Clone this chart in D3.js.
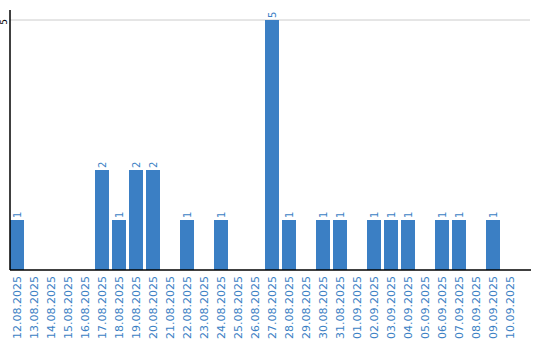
<!DOCTYPE html>
<html lang="en">
<head>
<meta charset="UTF-8">
<title>Daily counts</title>
<script src="https://d3js.org/d3.v7.min.js"></script>
<style>
  body { margin: 0; background: #fff; }
  text { font-family: "DejaVu Sans", sans-serif; }
</style>
</head>
<body>
<div id="chart"></div>
<script>
// categories and values
const dates = ["12.08.2025","13.08.2025","14.08.2025","15.08.2025","16.08.2025","17.08.2025",
  "18.08.2025","19.08.2025","20.08.2025","21.08.2025","22.08.2025","23.08.2025","24.08.2025",
  "25.08.2025","26.08.2025","27.08.2025","28.08.2025","29.08.2025","30.08.2025","31.08.2025",
  "01.09.2025","02.09.2025","03.09.2025","04.09.2025","05.09.2025","06.09.2025","07.09.2025",
  "08.09.2025","09.09.2025","10.09.2025"];
const counts = [1,0,0,0,0,2,1,2,2,0,1,0,1,0,0,5,1,0,1,1,0,1,1,1,0,1,1,0,1,0];
const yTicks = [5];

const W = 540, H = 340;
const plotLeft = 10, plotRight = 517, plotTop = 10, plotBottom = 270;
const blue = "#3b7fc4";

const svg = d3.select("#chart").append("svg")
  .attr("width", W).attr("height", H);

const x = d3.scaleBand().domain(dates).range([plotLeft, plotRight]).paddingInner(3 / 17).paddingOuter(0);
const y = d3.scaleLinear().domain([0, 5]).range([plotBottom, 20]);

// grid line
svg.append("g").selectAll("line").data(yTicks).join("line")
  .attr("x1", plotLeft).attr("x2", 530)
  .attr("y1", d => y(d)).attr("y2", d => y(d))
  .attr("stroke", "#cccccc");

// y tick labels (rotated)
svg.append("g").selectAll("text").data(yTicks).join("text")
  .attr("transform", d => `translate(7,${y(d) + 2}) rotate(-90)`)
  .attr("text-anchor", "middle")
  .attr("font-size", 9)
  .attr("fill", "#000")
  .text(d => d);

// bars
svg.append("g").selectAll("rect").data(dates).join("rect")
  .attr("x", d => x(d))
  .attr("width", x.bandwidth())
  .attr("y", (d, i) => y(counts[i]))
  .attr("height", (d, i) => y(0) - y(counts[i]))
  .attr("fill", blue);

// value labels
svg.append("g").selectAll("text").data(dates.filter((d, i) => counts[i] > 0)).join("text")
  .attr("transform", d => `translate(${x(d) + x.bandwidth() / 2 + 4},${y(counts[dates.indexOf(d)]) - 2}) rotate(-90)`)
  .attr("font-size", 10)
  .attr("fill", blue)
  .text(d => counts[dates.indexOf(d)]);

// axes lines
svg.append("line").attr("x1", plotLeft).attr("x2", plotLeft).attr("y1", plotTop).attr("y2", plotBottom)
  .attr("stroke", "#000").attr("stroke-width", 1.5);
svg.append("line").attr("x1", plotLeft).attr("x2", 531).attr("y1", plotBottom).attr("y2", plotBottom)
  .attr("stroke", "#000").attr("stroke-width", 1.5);

// x category labels
svg.append("g").selectAll("text").data(dates).join("text")
  .attr("transform", d => `translate(${x(d) + x.bandwidth() / 2 + 4},${plotBottom + 6}) rotate(-90)`)
  .attr("text-anchor", "end")
  .attr("font-size", 11)
  .attr("fill", blue)
  .text(d => d);
</script>
</body>
</html>
